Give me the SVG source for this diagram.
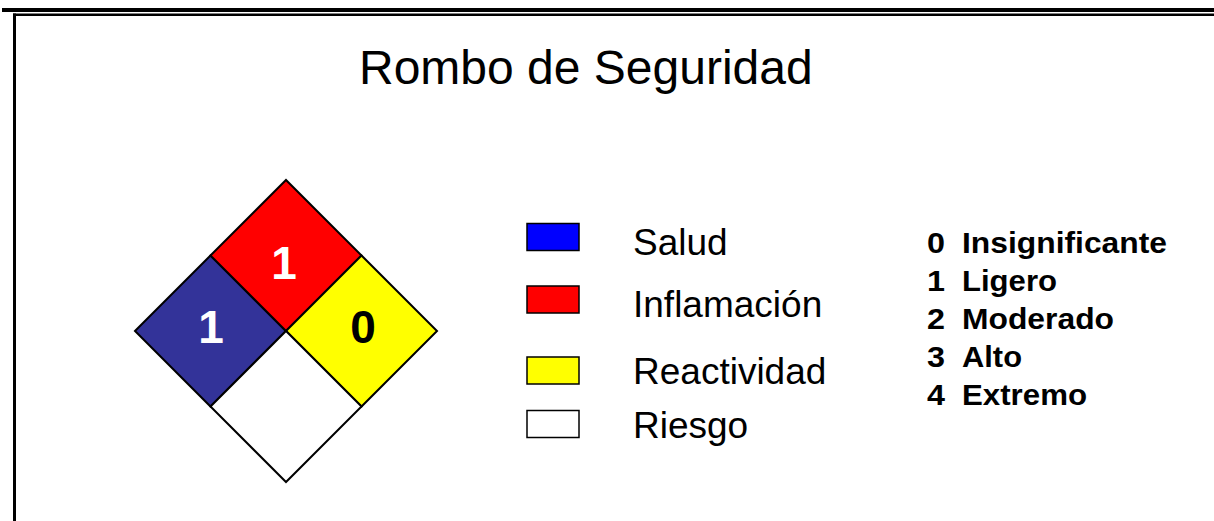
<svg xmlns="http://www.w3.org/2000/svg" width="1214" height="521" viewBox="0 0 1214 521">
<style>
.q{stroke:#000;stroke-width:2;stroke-linejoin:miter}
.num{font-family:"Liberation Sans",Arial,sans-serif;font-weight:bold;font-size:46px;text-anchor:middle}
.lg{font-family:"Liberation Sans",Arial,sans-serif;font-size:37px;fill:#000}
.box{stroke:#000;stroke-width:1.5}
.sc{font-family:"Liberation Sans",Arial,sans-serif;font-weight:bold;font-size:29.5px;fill:#000}
</style>
<rect width="1214" height="521" fill="#fff"/>
<g id="frame">
<rect x="2" y="8" width="1212" height="4" fill="#000"/>
<rect x="13" y="13.5" width="1201" height="2.5" fill="#000"/>
<rect x="13" y="13.5" width="3" height="507.5" fill="#000"/>
</g>
<g id="title">
<text x="359" y="84" font-family="Liberation Sans, Arial, sans-serif" font-size="48" fill="#000">Rombo de Seguridad</text>
</g>
<g id="diamond">
<g id="health">
<polygon class="q" points="135,331 210.5,255.5 286,331 210.5,406.5" fill="#333399"/>
<text class="num" x="211" y="343" fill="#fff">1</text>
</g>
<g id="flammability">
<polygon class="q" points="210.5,255.5 286,180 361.5,255.5 286,331" fill="#ff0000"/>
<text class="num" x="284" y="279" fill="#fff">1</text>
</g>
<g id="reactivity">
<polygon class="q" points="286,331 361.5,255.5 437,331 361.5,406.5" fill="#ffff00"/>
<text class="num" x="363" y="343" fill="#000">0</text>
</g>
<g id="special">
<polygon class="q" points="210.5,406.5 286,331 361.5,406.5 286,482" fill="#fff"/>
</g>
</g>
<g id="legend">
<g id="leg-salud"><rect class="box" x="527" y="223.5" width="52" height="27" fill="#0000ff"/><text class="lg" x="633" y="255">Salud</text></g>
<g id="leg-inflamacion"><rect class="box" x="527" y="286" width="52" height="27" fill="#ff0000"/><text class="lg" x="633" y="317">Inflamación</text></g>
<g id="leg-reactividad"><rect class="box" x="527" y="357" width="52" height="27" fill="#ffff00"/><text class="lg" x="633" y="384">Reactividad</text></g>
<g id="leg-riesgo"><rect class="box" x="527" y="410.5" width="52" height="27" fill="#fff"/><text class="lg" x="633" y="438">Riesgo</text></g>
</g>
<g id="scale">
<text class="sc" y="253"><tspan x="927" textLength="18" lengthAdjust="spacingAndGlyphs">0</tspan><tspan x="962" textLength="205" lengthAdjust="spacingAndGlyphs">Insignificante</tspan></text>
<text class="sc" y="290.5"><tspan x="927" textLength="18" lengthAdjust="spacingAndGlyphs">1</tspan><tspan x="962" textLength="95" lengthAdjust="spacingAndGlyphs">Ligero</tspan></text>
<text class="sc" y="328.5"><tspan x="927" textLength="18" lengthAdjust="spacingAndGlyphs">2</tspan><tspan x="962" textLength="152" lengthAdjust="spacingAndGlyphs">Moderado</tspan></text>
<text class="sc" y="367"><tspan x="927" textLength="18" lengthAdjust="spacingAndGlyphs">3</tspan><tspan x="962" textLength="60" lengthAdjust="spacingAndGlyphs">Alto</tspan></text>
<text class="sc" y="405"><tspan x="927" textLength="18" lengthAdjust="spacingAndGlyphs">4</tspan><tspan x="962" textLength="125" lengthAdjust="spacingAndGlyphs">Extremo</tspan></text>
</g>
</svg>
